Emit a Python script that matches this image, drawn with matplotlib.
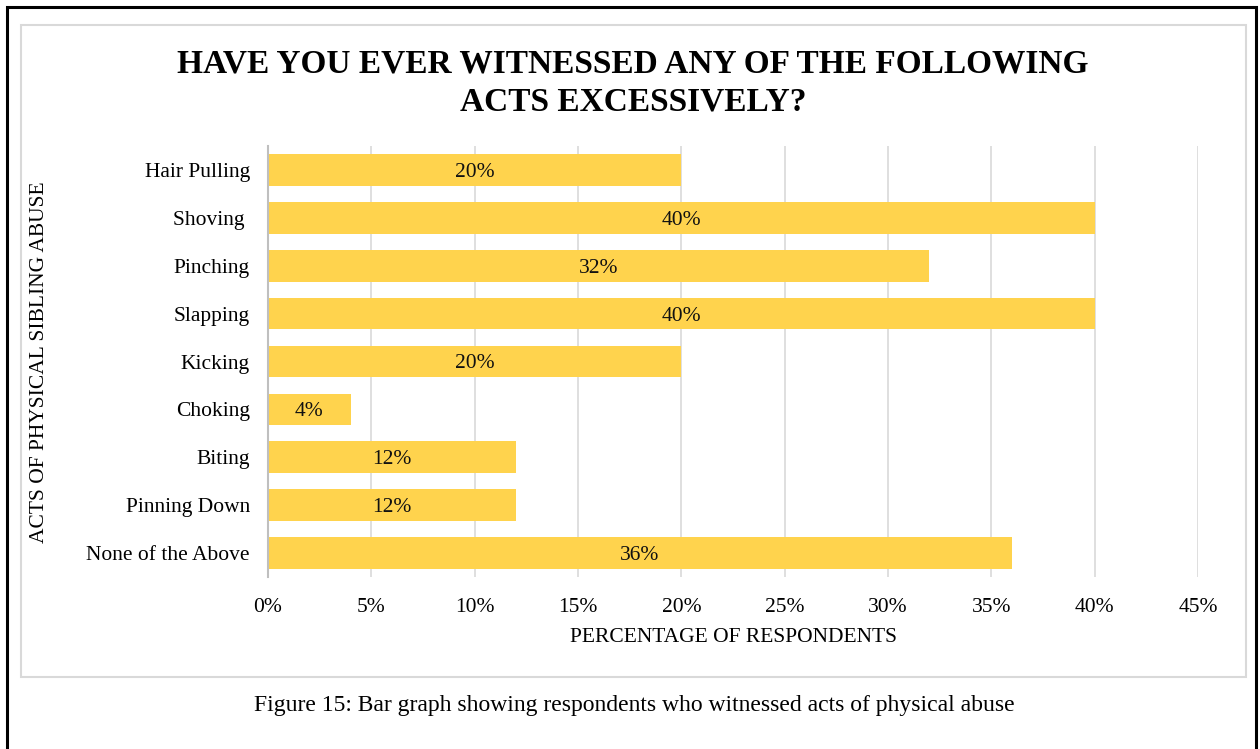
import matplotlib.pyplot as plt
from matplotlib.patches import Rectangle

# survey responses, top to bottom as listed on the chart
acts = ["Hair Pulling", "Shoving ", "Pinching", "Slapping", "Kicking",
        "Choking", "Biting", "Pinning Down", "None of the Above"]
percent = [20, 40, 32, 40, 20, 4, 12, 12, 36]
xticks = [0, 5, 10, 15, 20, 25, 30, 35, 40, 45]

plt.rcParams['font.family'] = ['Liberation Serif', 'DejaVu Serif']

W, H = 1260, 749
fig = plt.figure(figsize=(W / 100, H / 100), dpi=100)

def fx(px):
    return px / W

def fy(py):
    return 1 - py / H

# outer page frame (bottom edge runs off the image)
fig.patches.append(Rectangle((fx(7), fy(760)), fx(1256) - fx(7), fy(7) - fy(760),
                             transform=fig.transFigure, fill=False,
                             edgecolor="black", linewidth=2.2))
# chart area border
fig.patches.append(Rectangle((fx(21), fy(677)), fx(1246) - fx(21), fy(25) - fy(677),
                             transform=fig.transFigure, fill=False,
                             edgecolor="#d9d9d9", linewidth=1.5))

ax = fig.add_axes([fx(268), fy(577), fx(1198) - fx(268), fy(146) - fy(577)])

y = list(range(len(acts)))
bars = ax.barh(y, percent, height=0.66, color="#ffd34d", zorder=2)
ax.set_ylim(len(acts) - 0.5, -0.5)
ax.set_xlim(0, 45)

for b, v in zip(bars, percent):
    ax.text(v / 2, b.get_y() + b.get_height() / 2, f"{v}%", ha="center",
            va="center_baseline", fontsize=15.5, color="#111111", zorder=3)

ax.set_yticks(y)
ax.set_yticklabels(acts, fontsize=15.5)
ax.set_xticks(xticks)
ax.set_xticklabels([f"{t}%" for t in xticks], fontsize=15.5)
ax.tick_params(axis="y", length=0, pad=13)
ax.tick_params(axis="x", length=0, pad=15)
ax.grid(axis="x", color="#d9d9d9", linewidth=1.2, zorder=1)
ax.set_axisbelow(True)
for s in ["top", "right", "bottom"]:
    ax.spines[s].set_visible(False)
ax.spines["left"].set_color("#bfbfbf")
ax.spines["left"].set_linewidth(1.5)

ax.set_xlabel("PERCENTAGE OF RESPONDENTS", fontsize=15.5, labelpad=8)
fig.text(fx(40), fy(362), "ACTS OF PHYSICAL SIBLING ABUSE", rotation=90,
         ha="center", va="center", fontsize=15.5)

fig.text(fx(633), fy(83), "HAVE YOU EVER WITNESSED ANY OF THE FOLLOWING\nACTS EXCESSIVELY?",
         ha="center", va="center", fontsize=24, fontweight="bold",
         linespacing=1.3)

fig.text(fx(634), fy(705), "Figure 15: Bar graph showing respondents who witnessed acts of physical abuse",
         ha="center", va="center", fontsize=17)

fig.savefig("out.png", dpi=100)
